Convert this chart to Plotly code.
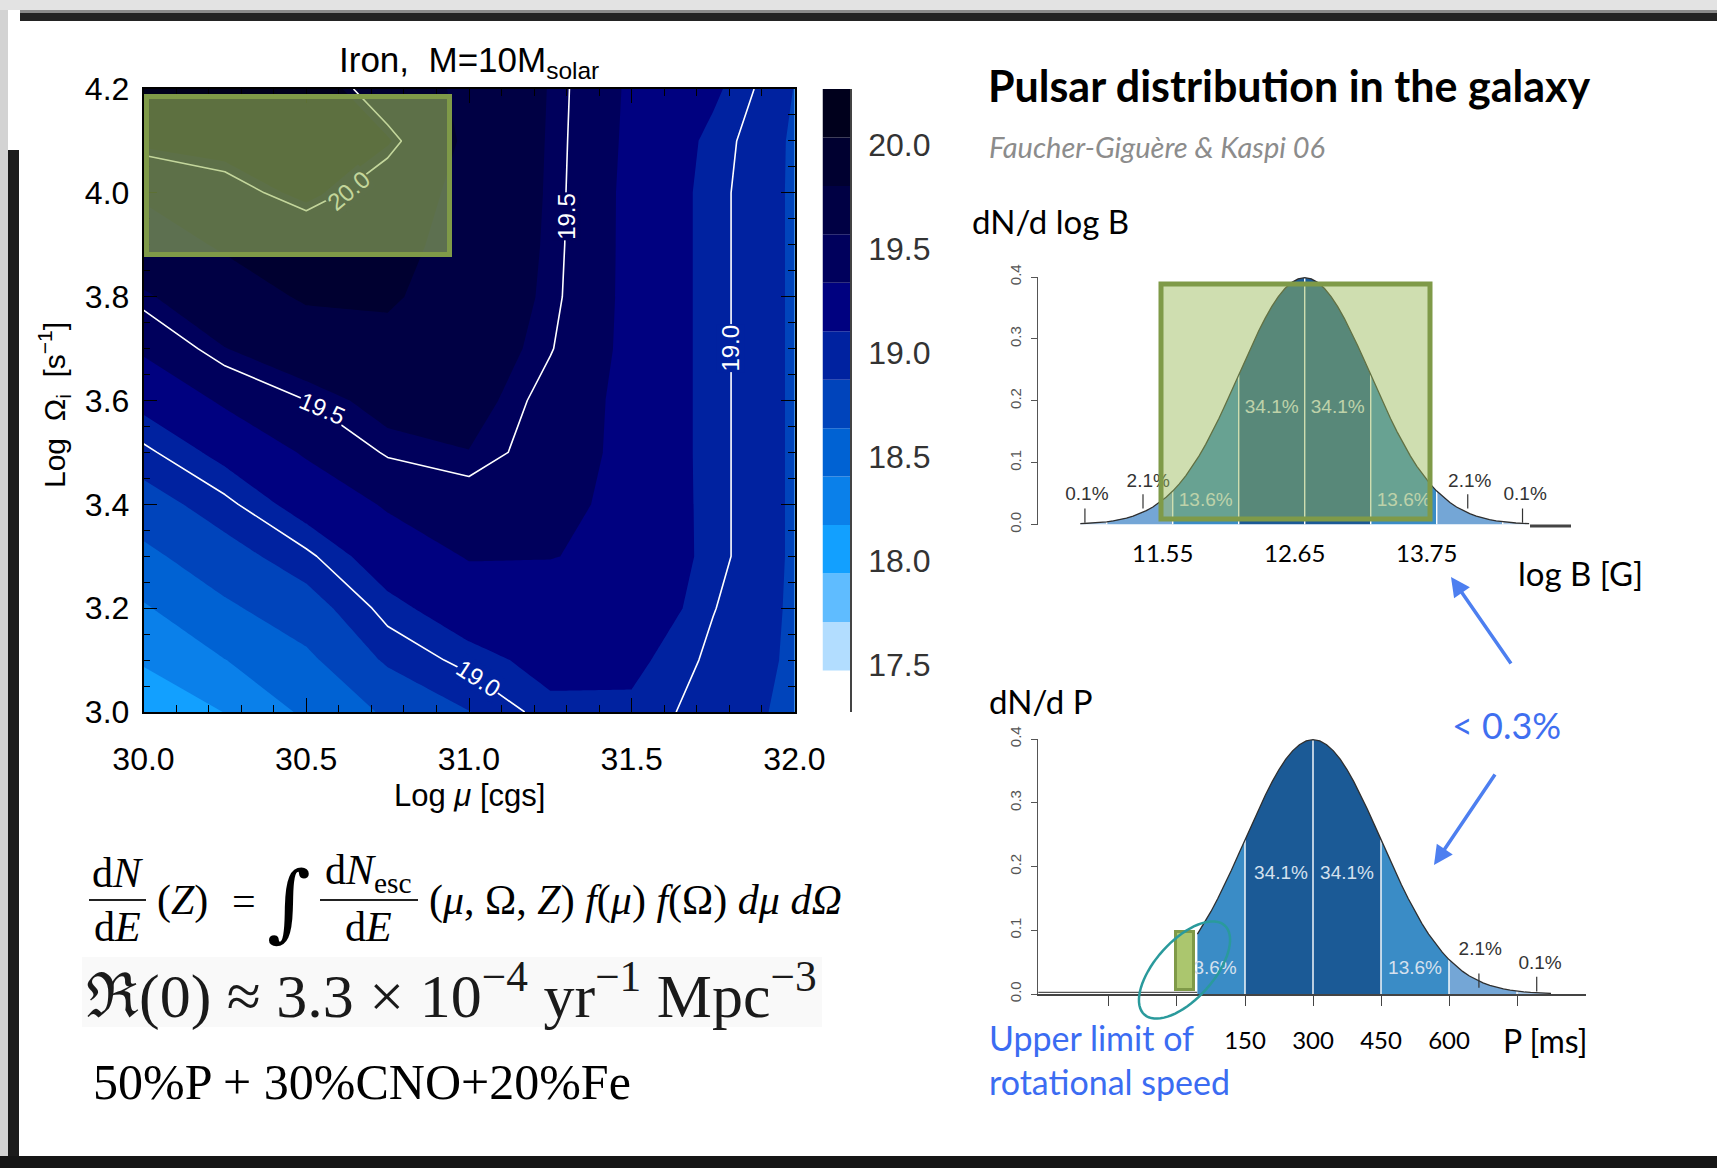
import math
import plotly.graph_objects as go

W, H = 1717, 1168

SANS = "Liberation Sans, Arial, sans-serif"
NARROW = "Liberation Sans Narrow, Liberation Sans, Arial, sans-serif"
SLIDE = "Lato, Open Sans, sans-serif"
SERIF = "Liberation Serif, DejaVu Serif, serif"


def fx(X):
    return X / W


def fy(Y):
    return 1 - Y / H


# ---------------- escaping flux map: iron, M = 10 M_solar ----------------
log_mu = [30.0, 30.25, 30.5, 30.75, 31.0, 31.25, 31.5, 31.75, 32.0]
log_omega = [3.0, 3.1, 3.2, 3.3, 3.4, 3.5, 3.6, 3.7, 3.8, 3.9, 4.0, 4.1, 4.2]
# one column per log_mu value, listed from log_omega = 3.0 up to 4.2
log_n_by_mu = [
    [18.009, 18.196, 18.382, 18.578, 18.782, 18.969, 19.155, 19.369, 19.546, 19.709, 19.825, 20.067, 20.198],
    [18.177, 18.401, 18.596, 18.792, 18.964, 19.155, 19.369, 19.565, 19.704, 19.825, 19.928, 20.105, 20.170],
    [18.447, 18.587, 18.782, 18.969, 19.183, 19.360, 19.499, 19.686, 19.825, 19.853, 20.077, 20.105, 20.151],
    [18.671, 18.903, 19.052, 19.211, 19.360, 19.515, 19.630, 19.751, 19.825, 19.863, 19.900, 20.049, 19.891],
    [18.866, 19.043, 19.211, 19.350, 19.425, 19.565, 19.639, 19.686, 19.714, 19.732, 19.751, 19.760, 19.769],
    [19.062, 19.164, 19.267, 19.341, 19.378, 19.430, 19.445, 19.509, 19.537, 19.546, 19.551, 19.555, 19.560],
    [19.071, 19.146, 19.267, 19.304, 19.295, 19.285, 19.285, 19.285, 19.285, 19.285, 19.285, 19.295, 19.304],
    [18.941, 18.969, 19.006, 19.043, 19.043, 19.043, 19.043, 19.043, 19.043, 19.043, 19.043, 19.062, 19.136],
    [18.838, 18.848, 18.848, 18.848, 18.848, 18.848, 18.848, 18.848, 18.848, 18.848, 18.848, 18.848, 18.866],
]
log_n = [[col[i] for col in log_n_by_mu] for i in range(len(log_omega))]

band_edges = [17.474, 17.7068, 17.9396, 18.1724, 18.4052, 18.638, 18.8708,
              19.1036, 19.3364, 19.5692, 19.802, 20.0348, 20.2676]
band_step = 0.2328
band_colors = ["#b2ddff", "#5fbcff", "#12a0ff", "#0a80ea", "#0062d3", "#0044bb",
               "#0022a0", "#000180", "#00005c", "#000044", "#000030", "#00001c"]
colorbar_ticks = [17.5, 18.0, 18.5, 19.0, 19.5, 20.0]
labelled_levels = [19.0, 19.5, 20.0]

# labels written on the white contour lines: level, log mu, log Omega, angle
contour_labels = [
    (19.5, 30.55, 3.585, 23),
    (20.0, 30.63, 4.005, -40),
    (19.5, 31.30, 3.955, -90),
    (19.0, 31.03, 3.064, 33),
    (19.0, 31.805, 3.70, -90),
]

# ---------------- pulsar distributions ----------------
# standard normal density, read every 0.1 sigma from the centre outwards
sigma_step = [0.0, 0.1, 0.2, 0.3, 0.4, 0.5, 0.6, 0.7, 0.8, 0.9, 1.0, 1.1, 1.2,
              1.3, 1.4, 1.5, 1.6, 1.7, 1.8, 1.9, 2.0, 2.1, 2.2, 2.3, 2.4, 2.5,
              2.6, 2.7, 2.8, 2.9, 3.0, 3.1, 3.2, 3.3, 3.4, 3.5]
density = [0.3989, 0.3970, 0.3910, 0.3814, 0.3683, 0.3521, 0.3332, 0.3123,
           0.2897, 0.2661, 0.2420, 0.2179, 0.1942, 0.1714, 0.1497, 0.1295,
           0.1109, 0.0940, 0.0790, 0.0656, 0.0540, 0.0440, 0.0355, 0.0283,
           0.0224, 0.0175, 0.0136, 0.0104, 0.0079, 0.0060, 0.0044, 0.0033,
           0.0024, 0.0017, 0.0012, 0.0009]

logB_mean, logB_sd = 12.65, 0.55
logB_ticks = [11.55, 12.65, 13.75]
P_mean, P_sd = 300.0, 150.0
P_ticks = [-150, 0, 150, 300, 450, 600, 750]
P_ticktext = ["", "", "150", "300", "450", "600", ""]

band_fill = {"core": "#1b5a96", "mid": "#3a8cc6", "outer": "#74a6d6", "tail": "#a9c8e8"}
logB_bands = [(-3.4, -3, "tail"), (-3, -2, "outer"), (-2, -1, "mid"), (-1, 0, "core"),
              (0, 1, "core"), (1, 2, "mid"), (2, 3, "outer"), (3, 3.4, "tail")]
P_bands = [(-1.7, -1, "mid"), (-1, 0, "core"), (0, 1, "core"), (1, 2, "mid"),
           (2, 3, "outer"), (3, 3.5, "tail")]

# share labels: (text, sigma position, height, colour)
logB_shares = [("0.1%", -3.3, 0.048, "#333333"), ("2.1%", -2.37, 0.069, "#333333"),
               ("13.6%", -1.5, 0.038, "#dfe8f2"), ("34.1%", -0.5, 0.188, "#dfe8f2"),
               ("34.1%", 0.5, 0.188, "#dfe8f2"), ("13.6%", 1.5, 0.038, "#dfe8f2"),
               ("2.1%", 2.5, 0.069, "#333333"), ("0.1%", 3.34, 0.048, "#333333")]
P_shares = [("3.6%", -1.44, 0.039, "#d5e1ee"), ("34.1%", -0.47, 0.188, "#d5e1ee"),
            ("34.1%", 0.5, 0.188, "#d5e1ee"), ("13.6%", 1.5, 0.039, "#d5e1ee"),
            ("2.1%", 2.46, 0.069, "#333333"), ("0.1%", 3.34, 0.047, "#333333")]

sig_full = [-s for s in sigma_step[:0:-1]] + sigma_step
den_full = density[:0:-1] + density


def pdf_at(s):
    i = min(range(len(sig_full)), key=lambda k: abs(sig_full[k] - s))
    return den_full[i]


def bell(fig, xa, ya, mean, sd, bands, lo, hi, cuts):
    for a, b, kind in bands:
        sel = [k for k, s in enumerate(sig_full) if a - 1e-9 <= s <= b + 1e-9]
        xs = [mean + sd * sig_full[k] for k in sel] + [mean + sd * b, mean + sd * a]
        ys = [den_full[k] for k in sel] + [0, 0]
        fig.add_trace(go.Scatter(x=xs, y=ys, fill="toself", fillcolor=band_fill[kind],
                                 mode="lines", line=dict(width=0), xaxis=xa, yaxis=ya,
                                 hoverinfo="skip", showlegend=False))
    sx, sy = [], []
    for c in cuts:
        sx += [mean + sd * c, mean + sd * c, None]
        sy += [0, pdf_at(c), None]
    fig.add_trace(go.Scatter(x=sx, y=sy, mode="lines", line=dict(color="white", width=1.4),
                             xaxis=xa, yaxis=ya, hoverinfo="skip", showlegend=False))
    sel = [k for k, s in enumerate(sig_full) if lo - 1e-9 <= s <= hi + 1e-9]
    fig.add_trace(go.Scatter(x=[mean + sd * sig_full[k] for k in sel],
                             y=[den_full[k] for k in sel], mode="lines",
                             line=dict(color="#2f2f2f", width=1.3), xaxis=xa, yaxis=ya,
                             hoverinfo="skip", showlegend=False))


def shares(fig, xa, ya, mean, sd, items):
    fig.add_trace(go.Scatter(x=[mean + sd * s for _, s, _, _ in items],
                             y=[h for _, _, h, _ in items], text=[t for t, _, _, _ in items],
                             mode="text", textfont=dict(family=NARROW, size=19,
                                                        color=[c for _, _, _, c in items]),
                             xaxis=xa, yaxis=ya, cliponaxis=False, hoverinfo="skip",
                             showlegend=False))


def ticks_marks(fig, xa, ya, mean, sd, marks):
    xs, ys = [], []
    for s, y0, y1 in marks:
        xs += [mean + sd * s, mean + sd * s, None]
        ys += [y0, y1, None]
    fig.add_trace(go.Scatter(x=xs, y=ys, mode="lines", line=dict(color="#333", width=1.2),
                             xaxis=xa, yaxis=ya, hoverinfo="skip", showlegend=False))


fig = go.Figure()

# filled contour map
cscale = [[i / 11, band_colors[i]] for i in range(12)]
fig.add_trace(go.Contour(
    x=log_mu, y=log_omega, z=log_n, xaxis="x", yaxis="y",
    contours=dict(start=band_edges[1], end=band_edges[-2], size=band_step,
                  coloring="fill", showlines=False),
    colorscale=cscale, showscale=False, line=dict(width=0, smoothing=0),
    hoverinfo="skip"))
fig.add_trace(go.Contour(
    x=log_mu, y=log_omega, z=log_n, xaxis="x", yaxis="y",
    contours=dict(start=labelled_levels[0], end=labelled_levels[-1], size=0.5,
                  coloring="none", showlabels=False),
    line=dict(color="white", width=1.6, smoothing=0), showscale=False,
    hoverinfo="skip"))

# colour bar as stacked level bands
fig.add_trace(go.Bar(
    x=[0] * 12, y=[band_edges[i + 1] - band_edges[i] for i in range(12)],
    base=band_edges[:-1], width=1.0, marker=dict(color=band_colors, line=dict(width=0)),
    xaxis="x2", yaxis="y2", hoverinfo="skip", showlegend=False))

# dN/d log B
bell(fig, "x3", "y3", logB_mean, logB_sd, logB_bands, -3.4, 3.4, [-3, -2, -1, 0, 1, 2, 3])
shares(fig, "x3", "y3", logB_mean, logB_sd, logB_shares)
ticks_marks(fig, "x3", "y3", logB_mean, logB_sd,
            [(-3.33, 0.003, 0.026), (-2.45, 0.026, 0.049),
             (2.47, 0.026, 0.049), (3.3, 0.003, 0.026)])

# dN/d P (short-period side cut away)
fig.add_trace(go.Scatter(x=[-306, P_mean - 1.7 * P_sd], y=[0.0025, 0.0025], mode="lines",
                         line=dict(color="#555", width=1.2), xaxis="x4", yaxis="y4",
                         hoverinfo="skip", showlegend=False))
bell(fig, "x4", "y4", P_mean, P_sd, P_bands, -1.7, 3.5, [-1, 0, 1, 2, 3])
shares(fig, "x4", "y4", P_mean, P_sd, P_shares)
ticks_marks(fig, "x4", "y4", P_mean, P_sd, [(2.44, 0.01, 0.032), (3.29, 0.004, 0.027)])

# ---------------- axes ----------------
plot_x0, plot_x1, plot_y0, plot_y1 = 143.5, 794.5, 89, 712
frame = dict(showline=True, linecolor="black", linewidth=1.5, mirror="allticks",
             ticks="inside", ticklen=14, tickwidth=1.3, tickcolor="black",
             showgrid=False, zeroline=False, tickformat=".1f", automargin=False,
             tickfont=dict(family=SANS, size=32, color="black"))
small_y = dict(range=[0, 0.4], showline=True, linecolor="#555", linewidth=1,
               ticks="outside", ticklen=6, tickcolor="#555",
               tickvals=[0, 0.1, 0.2, 0.3, 0.4], tickformat=".1f", tickangle=-90,
               showgrid=False, zeroline=False, ticklabelstandoff=4, automargin=False,
               tickfont=dict(family=SANS, size=15, color="#555"))
fig.update_layout(
    xaxis=dict(domain=[fx(plot_x0), fx(plot_x1)], range=[30, 32], anchor="y",
               tick0=30, dtick=0.5, ticklabelstandoff=18,
               minor=dict(ticks="inside", ticklen=7, dtick=0.1, tickcolor="black", tickwidth=1.2),
               **frame),
    yaxis=dict(domain=[fy(plot_y1), fy(plot_y0)], range=[3.0, 4.2], anchor="x",
               tick0=3.0, dtick=0.2, ticklabelstandoff=6,
               minor=dict(ticks="inside", ticklen=7, dtick=0.05, tickcolor="black", tickwidth=1.2),
               **frame),
    xaxis2=dict(domain=[fx(822.5), fx(850)], range=[-0.5, 0.5], anchor="y2", visible=False,
                automargin=False),
    yaxis2=dict(domain=[fy(plot_y1), fy(plot_y0)], range=[17.274, 20.2676], anchor="x2",
                side="right", showline=True, linecolor="#444", linewidth=1.5, ticks="",
                tickvals=colorbar_ticks, tickformat=".1f", showgrid=False, zeroline=False,
                tickfont=dict(family=SANS, size=32, color="#333"), ticklabelstandoff=10,
                automargin=False),
    xaxis3=dict(domain=[fx(1038), fx(1580)], range=[10.4275, 14.944], anchor="y3",
                showline=False, ticks="", tickvals=logB_ticks, tickformat=".2f",
                showgrid=False, zeroline=False, ticklabelstandoff=12, automargin=False,
                ticklabelshift=-10,
                tickfont=dict(family=SLIDE, size=24, color="black")),
    yaxis3=dict(domain=[fy(524.5), fy(277)], anchor="x3", **small_y),
    xaxis4=dict(domain=[fx(1038), fx(1586)], range=[-306.6, 902.2], anchor="y4",
                showline=True, linecolor="#444", linewidth=1.6, ticks="outside", ticklen=10,
                tickcolor="#444", tickvals=P_ticks, ticktext=P_ticktext,
                showgrid=False, zeroline=False, ticklabelstandoff=14, automargin=False,
                tickfont=dict(family=SLIDE, size=24, color="black")),
    yaxis4=dict(domain=[fy(994), fy(739)], anchor="x4", **small_y),
)

# ---------------- shapes ----------------
shapes = []


def rect(X0, Y0, X1, Y1, fill, line_color=None, lw=0, layer="above"):
    shapes.append(dict(type="rect", xref="paper", yref="paper",
                       x0=fx(X0), x1=fx(X1), y0=fy(Y1), y1=fy(Y0),
                       fillcolor=fill, line=dict(color=line_color or fill, width=lw),
                       layer=layer))


# slide frame
rect(0, 0, W, 10, "#e3e3e3", layer="below")
rect(20, 10, W, 13, "#8a8a8a", layer="below")
rect(20, 13, W, 21, "#232323", layer="below")
rect(0, 10, 8, H, "#d3d3d3", layer="below")
rect(8, 150, 19, 1158, "#1c1c1c", layer="below")
rect(0, 1156, W, H, "#161616", layer="below")
rect(82, 957, 822, 1027, "#f9f9f9", layer="below")

# highlight boxes
rect(146.5, 96.5, 449.5, 254.5, "rgba(155,187,89,0.6)", "#7f9a48", 5)
rect(1161, 284, 1430, 519, "rgba(155,187,89,0.48)", "#7f9a48", 5)
rect(1175.5, 931.5, 1193.5, 989.5, "rgba(167,195,102,0.95)", "#7f9a48", 3)

# fraction bars
for X0, X1 in [(89, 146), (320, 418)]:
    shapes.append(dict(type="line", xref="paper", yref="paper", x0=fx(X0), x1=fx(X1),
                       y0=fy(900), y1=fy(900), line=dict(color="#222", width=2)))

# short axis stub at the end of the log B curve
shapes.append(dict(type="line", xref="paper", yref="paper", x0=fx(1530), x1=fx(1571),
                   y0=fy(526), y1=fy(526), line=dict(color="#444", width=3)))

# ellipse around the cut
cx, cy, ea, eb, th = 1184.5, 970, 60, 29, math.radians(48)
pts = []
for k in range(73):
    t = 2 * math.pi * k / 72
    X = cx + ea * math.cos(t) * math.cos(th) + eb * math.sin(t) * math.sin(th)
    Y = cy - ea * math.cos(t) * math.sin(th) + eb * math.sin(t) * math.cos(th)
    pts.append(f"{fx(X):.5f},{fy(Y):.5f}")
shapes.append(dict(type="path", xref="paper", yref="paper",
                   path="M " + " L ".join(pts) + " Z", line=dict(color="#2a9a9c", width=2.5)))

# ---------------- text ----------------
anns = []


def text(t, X, Y, size, color="black", family=SLIDE, xanchor="left", angle=0):
    anns.append(dict(text=t, x=fx(X), y=fy(Y), xref="paper", yref="paper",
                     xanchor=xanchor, yanchor="middle", showarrow=False, textangle=angle,
                     font=dict(family=family, size=size, color=color)))


text("Iron,&nbsp; M=10M<sub>solar</sub>", 469, 62, 35, family=SANS, xanchor="center")
text("Log <i>μ</i> [cgs]", 469, 795, 31, family=SANS, xanchor="center")
text("Log&nbsp; Ω<sub>i</sub>&nbsp; [s<sup>−1</sup>]", 54, 405, 30, family=SANS,
     xanchor="center", angle=-90)

# equations
text("d<i>N</i>", 117, 873, 42, family=SERIF, xanchor="center")
text("d<i>E</i>", 117, 927, 42, family=SERIF, xanchor="center")
text("(<i>Z</i>)", 155, 901, 42, family=SERIF)
text("=", 244, 901, 42, family=SERIF, xanchor="center")
text("∫", 289, 902, 84, family="DejaVu Serif, serif", xanchor="center")
text("d<i>N</i><sub>esc</sub>", 368, 873, 42, family=SERIF, xanchor="center")
text("d<i>E</i>", 368, 927, 42, family=SERIF, xanchor="center")
text("(<i>μ</i>, Ω, <i>Z</i>) <i>f</i>(<i>μ</i>) <i>f</i>(Ω) <i>dμ dΩ</i>", 427, 901, 42,
     family=SERIF)
text("ℜ(0) ≈ 3.3 × 10<sup>−4</sup> yr<sup>−1</sup> Mpc<sup>−3</sup>", 84, 991, 62,
     color="#1a1a1a", family=SERIF)
text("50%P + 30%CNO+20%Fe", 91, 1082, 50, family=SERIF)

# slide text
text("<b>Pulsar distribution in the galaxy</b>", 986, 85, 43)
text("<i>Faucher-Giguère &amp; Kaspi 06</i>", 987, 146, 29, color="#8c8c8c")
text("dN/d log B", 970, 221, 33)
text("log B [G]", 1516, 573, 33)
text("dN/d P", 987, 701, 33)
text("&lt; 0.3%", 1450, 725, 36, color="#3f6ff0")
text("Upper limit of", 987, 1037, 34, color="#3b6cf2")
text("rotational speed", 987, 1081, 34, color="#3b6cf2")
text("P [ms]", 1501, 1040, 32)

# labels on the contour lines
green = (155, 187, 89)


def blend(hex_color, a):
    r, g, b = (int(hex_color[i:i + 2], 16) for i in (1, 3, 5))
    return "rgb({},{},{})".format(*(round(a * c2 + (1 - a) * c1)
                                     for c1, c2 in zip((r, g, b), green)))


for val, mu, om, ang in contour_labels:
    idx = int((val - band_edges[0]) // band_step)
    under_box = om > 3.87 and mu < 30.95
    bg = blend(band_colors[idx], 0.6) if under_box else band_colors[idx]
    fg = blend("#ffffff", 0.6) if under_box else "white"
    anns.append(dict(text=f"{val:.1f}", x=mu, y=om, xref="x", yref="y", showarrow=False,
                     textangle=ang, bgcolor=bg, borderpad=0,
                     font=dict(family=SANS, size=24, color=fg)))

# arrows
for hx, hy, tx, ty in [(1451, 577, 1512, 665), (1434, 865, 1496, 773)]:
    anns.append(dict(text="", x=fx(hx), y=fy(hy), xref="paper", yref="paper",
                     ax=tx - hx, ay=ty - hy, axref="pixel", ayref="pixel",
                     showarrow=True, arrowhead=2, arrowsize=1.1, arrowwidth=3.5,
                     arrowcolor="#4d7ff0"))

fig.update_layout(
    template="none",
    width=W, height=H, autosize=False,
    margin=dict(l=0, r=0, t=0, b=0, pad=0, autoexpand=False),
    paper_bgcolor="white", plot_bgcolor="rgba(0,0,0,0)", showlegend=False,
    shapes=shapes, annotations=anns, barmode="overlay",
)

fig.write_html("out.html", config={"displayModeBar": False})
